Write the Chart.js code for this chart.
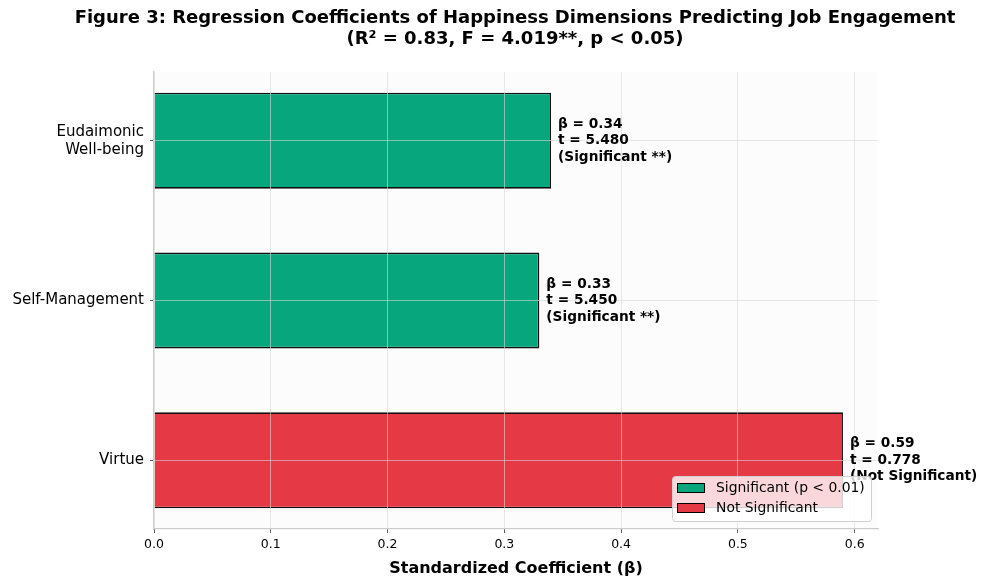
<!DOCTYPE html>
<html>
<head>
<meta charset="utf-8">
<script src="https://cdn.jsdelivr.net/npm/chart.js@4"></script>
<style>
  html, body { margin: 0; padding: 0; background: #fff; }
  #wrap { width: 989px; height: 586px; position: relative; }
</style>
</head>
<body>
<div id="wrap"><canvas id="coefChart"></canvas></div>
<script>
// data
const categories = [['Eudaimonic', 'Well-being'], 'Self-Management', 'Virtue'];
const betas = [0.34, 0.33, 0.59];
const tValues = ['5.480', '5.450', '0.778'];
const significant = [true, true, false];
const xTicks = [0.0, 0.1, 0.2, 0.3, 0.4, 0.5, 0.6];

const colors = {
    sig: '#08a67c',        // hijau
    notSig: '#e63946',     // merah
    grid: 'rgba(215,215,215,0.75)',
    spine: '#cccccc'
};
const FONT = '"DejaVu Sans", sans-serif';

const titlePlugin = {
    id: 'figTitle',
    afterDraw(chart) {
        const ctx = chart.ctx;
        ctx.save();
        ctx.fillStyle = '#000';
        ctx.textAlign = 'center';
        ctx.textBaseline = 'middle';
        ctx.font = 'bold 18px ' + FONT;
        ctx.fillText('Figure 3: Regression Coefficients of Happiness Dimensions Predicting Job Engagement', 515, 18);
        ctx.fillText('(R\u00b2 = 0.83, F = 4.019**, p < 0.05)', 515, 39);
        ctx.restore();
    }
};

const bgPlugin = {
    id: 'plotBg',
    beforeDraw(chart) {
        const a = chart.chartArea, ctx = chart.ctx;
        ctx.save();
        ctx.fillStyle = '#fcfcfc';
        ctx.fillRect(a.left, a.top, a.right - a.left, a.bottom - a.top);
        ctx.restore();
    }
};

// value labels: drawn after the grid, before the legend box
const labelPlugin = {
    id: 'barLabels',
    afterDraw(chart) {
        const ctx = chart.ctx, xs = chart.scales.x, ys = chart.scales.y;
        ctx.save();
        ctx.fillStyle = '#000';
        ctx.font = 'bold 13.7px ' + FONT;
        ctx.textAlign = 'left';
        ctx.textBaseline = 'middle';
        betas.forEach((b, i) => {
            const x = xs.getPixelForValue(b) + 7;
            const y = ys.getPixelForValue(i);
            const lines = ['\u03b2 = ' + b.toFixed(2), 't = ' + tValues[i],
                significant[i] ? '(Significant **)' : '(Not Significant)'];
            lines.forEach((t, k) => ctx.fillText(t, x, y + (k - 1) * 16.5));
        });
        ctx.restore();
    }
};

const legendPlugin = {
    id: 'boxLegend',
    afterDraw(chart) {
        const ctx = chart.ctx;
        const x = 672, y = 476, w = 199, h = 45;
        ctx.save();
        ctx.fillStyle = 'rgba(255,255,255,0.8)';
        ctx.strokeStyle = '#d0d0d0';
        ctx.lineWidth = 1;
        ctx.beginPath();
        ctx.roundRect(x + 0.5, y + 0.5, w, h, 3);
        ctx.fill();
        ctx.stroke();
        const items = [['Significant (p < 0.01)', colors.sig], ['Not Significant', colors.notSig]];
        ctx.font = '13.9px ' + FONT;
        ctx.textBaseline = 'middle';
        items.forEach((it, k) => {
            const cy = y + 12 + k * 20;
            ctx.fillStyle = it[1];
            ctx.fillRect(x + 5, cy - 5, 28, 10);
            ctx.strokeStyle = '#000';
            ctx.strokeRect(x + 5.5, cy - 4.5, 27, 9);
            ctx.fillStyle = '#000';
            ctx.fillText(it[0], x + 44, cy);
        });
        ctx.restore();
    }
};

new Chart(document.getElementById('coefChart'), {
    type: 'bar',
    data: {
        datasets: [{
            data: betas.map((b, i) => ({ x: b, y: i })),
            backgroundColor: significant.map(s => s ? colors.sig : colors.notSig),
            borderColor: '#111',
            borderWidth: 1.6,
            barPercentage: 0.6,
            categoryPercentage: 1.0
        }]
    },
    options: {
        indexAxis: 'y',
        responsive: true,
        maintainAspectRatio: false,
        animation: false,
        layout: { padding: { top: 72, right: 111, left: 0, bottom: 0 } },
        plugins: {
            legend: { display: false },
            tooltip: { enabled: false }
        },
        scales: {
            x: {
                type: 'linear',
                min: 0,
                max: 0.62,
                afterFit(s) { s.height = 57; },
                afterBuildTicks(s) { s.ticks = xTicks.map(v => ({ value: v })); },
                ticks: {
                    color: '#000',
                    font: { family: FONT, size: 12.5 },
                    padding: 4,
                    callback: v => v.toFixed(1)
                },
                grid: { z: 1, color: colors.grid, lineWidth: 0.8, tickColor: '#333', tickLength: 4 },
                border: { z: 2, color: colors.spine, width: 1.2 },
                title: {
                    display: true,
                    text: 'Standardized Coefficient (\u03b2)',
                    color: '#000',
                    font: { family: FONT, size: 16, weight: 'bold' },
                    padding: { top: 3, bottom: 8 }
                }
            },
            y: {
                type: 'linear',
                min: -0.43,
                max: 2.43,
                reverse: true,
                offset: false,
                afterFit(s) { s.width = 154; },
                afterBuildTicks(s) { s.ticks = categories.map((c, i) => ({ value: i })); },
                ticks: {
                    color: '#000',
                    font: { family: FONT, size: 15 },
                    padding: 6,
                    callback: v => categories[v]
                },
                grid: { z: 1, offset: false, color: colors.grid, lineWidth: 0.8, tickColor: '#333', tickLength: 4 },
                border: { z: 2, color: colors.spine, width: 1.2 }
            }
        }
    },
    plugins: [bgPlugin, labelPlugin, legendPlugin, titlePlugin]
});
</script>
</body>
</html>
